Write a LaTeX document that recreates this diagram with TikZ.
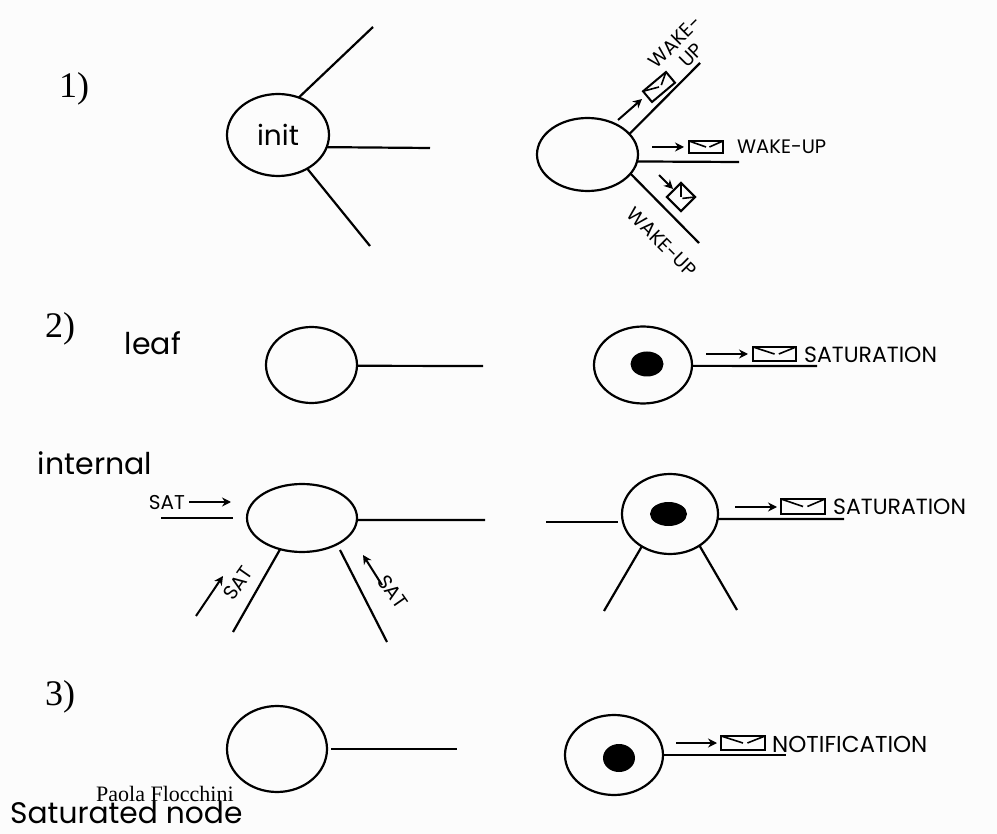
\documentclass[tikz,border=0pt]{standalone}
\usepackage{fontspec}
\setmainfont{Liberation Serif}
\newfontfamily\handfont{Poppins}
\usetikzlibrary{shapes.geometric,arrows.meta,calc}
\tikzset{
  x=1pt,y=-1pt,
  edge/.style={draw=black,line width=2.2pt},
  flow/.style={draw=black,line width=2pt,-{Stealth[length=9pt,width=9pt]}},
  nd/.style={draw=black,line width=2.2pt,shape=ellipse,inner sep=0pt,outer sep=0pt},
  blob/.style={fill=black,shape=ellipse,inner sep=0pt,outer sep=0pt},
  env/.style={draw=black,line width=2pt,shape=rectangle,inner sep=0pt,outer sep=0pt},
  hand/.style={font=\handfont\fontsize{#1}{#1}\selectfont,inner sep=0pt,text=black},
  hand/.default=20,
  stepnum/.style={font=\fontsize{36}{36}\selectfont,inner sep=0pt,text=black},
}
\newcommand{\envelope}[6]{%
  \node[env,minimum width=#4pt,minimum height=#5pt,rotate=#6] (#1) at (#2,#3) {};
  \draw[line width=1.6pt] (#1.north west) -- (#1.center);
  \draw[line width=1.6pt] (#1.north east) -- ($(#1.center)!0.2!(#1.east)$);
}
\begin{document}
\begin{tikzpicture}
\path[use as bounding box,fill={rgb,255:red,252;green,252;blue,252}] (0,0) rectangle (997,834);

% step labels
\node[stepnum] (n1) at (74,89) {1)};
\node[stepnum] (n2) at (60,329) {2)};
\node[stepnum] (n3) at (60,697) {3)};
\node[hand=30] (tleaf) at (153,343) {leaf};
\node[hand=30] (tint) at (95,463) {internal};

% row 1 left
\node[nd,minimum width=102pt,minimum height=82pt,font=\handfont\fontsize{28}{28}\selectfont] (a) at (278,135) {init};
\coordinate (a1) at (373,27);
\coordinate (a2) at (430,148);
\coordinate (a3) at (370,246);
\draw[edge] (a.61) -- (a1);
\draw[edge] (a.-14) -- (a2);
\draw[edge] (a.-49.5) -- (a3);

% row 1 right
\node[nd,minimum width=101pt,minimum height=73pt] (b) at (587.5,154.5) {};
\coordinate (b1) at (700,63);
\coordinate (b2) at (739,162);
\coordinate (b3) at (699,243);
\draw[edge] (b.26.8) -- (b1);
\draw[edge] (b.-8.5) -- (b2);
\draw[edge] (b.-24.7) -- (b3);
\envelope{e1}{659}{87}{30}{14}{40}
\envelope{e2}{706}{147}{34}{12}{0}
\envelope{e3}{681}{197}{20}{20}{-45}
\coordinate (f1s) at (618,120); \coordinate (f1e) at (642,99);
\coordinate (f2s) at (652,147); \coordinate (f2e) at (684,147);
\coordinate (f3s) at (659,175); \coordinate (f3e) at (673,189);
\draw[flow] (f1s) -- (f1e);
\draw[flow] (f2s) -- (f2e);
\draw[flow] (f3s) -- (f3e);
\node[hand=19.5,rotate=45] (w1) at (675,42) {WAKE-};
\node[hand=19.5,rotate=45] (w2) at (691,55) {UP};
\node[hand=19.5,anchor=west] (w3) at (737,147) {WAKE-UP};
\node[hand=19.5,rotate=-45] (w4) at (662,242) {WAKE-UP};

% row 2 left
\node[nd,minimum width=91pt,minimum height=76pt] (c) at (311.5,365) {};
\coordinate (c1) at (483,366);
\draw[edge] (c.-1) -- (c1);

% row 2 right
\node[nd,minimum width=98pt,minimum height=77pt] (d) at (643,365) {};
\node[blob,minimum width=33pt,minimum height=25pt] (db) at (647,364) {};
\coordinate (d1) at (817,366);
\draw[edge] (d.-1) -- (d1);
\coordinate (f4s) at (706,354); \coordinate (f4e) at (748,354);
\draw[flow] (f4s) -- (f4e);
\envelope{e4}{774.5}{354}{43}{14}{0}
\node[hand=22,anchor=west] (s1) at (804,355) {SATURATION};

% row 3 left (internal)
\node[nd,minimum width=110pt,minimum height=68pt] (g) at (302,518) {};
\coordinate (g1s) at (161,518); \coordinate (g1e) at (233,518);
\draw[edge] (g1s) -- (g1e);
\coordinate (g2) at (485,520);
\draw[edge] (g.-2) -- (g2);
\coordinate (g3) at (233,632);
\draw[edge] (g.-125.7) -- (g3);
\coordinate (g4s) at (340,550); \coordinate (g4e) at (387,642);
\draw[edge] (g4s) -- (g4e);
\coordinate (f5s) at (189,502); \coordinate (f5e) at (231,502);
\coordinate (f6s) at (196,616); \coordinate (f6e) at (223,576);
\coordinate (f7s) at (382,585); \coordinate (f7e) at (363,555);
\draw[flow] (f5s) -- (f5e);
\draw[flow] (f6s) -- (f6e);
\draw[flow] (f7s) -- (f7e);
\node[hand=20] (t1) at (167,503) {SAT};
\node[hand=20,rotate=55] (t2) at (238,583) {SAT};
\node[hand=20,rotate=-55] (t3) at (393,592) {SAT};

% row 3 right
\node[nd,minimum width=96pt,minimum height=80pt] (h) at (670,514) {};
\node[blob,minimum width=37pt,minimum height=24pt] (hb) at (668.5,514) {};
\coordinate (h1s) at (546,522); \coordinate (h1e) at (618,522);
\coordinate (h2) at (844,519);
\coordinate (h3) at (604,611);
\coordinate (h4) at (737,610);
\draw[edge] (h1s) -- (h1e);
\draw[edge] (h.-6) -- (h2);
\draw[edge] (h.-131) -- (h3);
\draw[edge] (h.-47.7) -- (h4);
\coordinate (f8s) at (735,507); \coordinate (f8e) at (777,507);
\draw[flow] (f8s) -- (f8e);
\envelope{e5}{803}{506.5}{44}{15}{0}
\node[hand=22,anchor=west] (s2) at (833,507) {SATURATION};

% row 4 left
\node[nd,minimum width=100pt,minimum height=86pt] (k) at (277,749) {};
\coordinate (k1s) at (331,749); \coordinate (k1e) at (457,749);
\draw[edge] (k1s) -- (k1e);

% row 4 right
\node[nd,minimum width=98pt,minimum height=80pt] (m) at (614,755) {};
\node[blob,minimum width=32pt,minimum height=28pt] (mb) at (619,758) {};
\coordinate (m1) at (786,755);
\draw[edge] (m.east) -- (m1);
\coordinate (f9s) at (676,743); \coordinate (f9e) at (717,743);
\draw[flow] (f9s) -- (f9e);
\envelope{e6}{743}{743}{44}{14}{0}
\node[hand=23,anchor=west] (s3) at (772,744) {NOTIFICATION};

% footer
\node[font=\fontsize{22}{22}\selectfont,inner sep=0pt,anchor=west] (pf) at (96,794) {Paola Flocchini};
\node[hand=29.7,anchor=west] (sn) at (10,813) {Saturated node};
\end{tikzpicture}
\end{document}
